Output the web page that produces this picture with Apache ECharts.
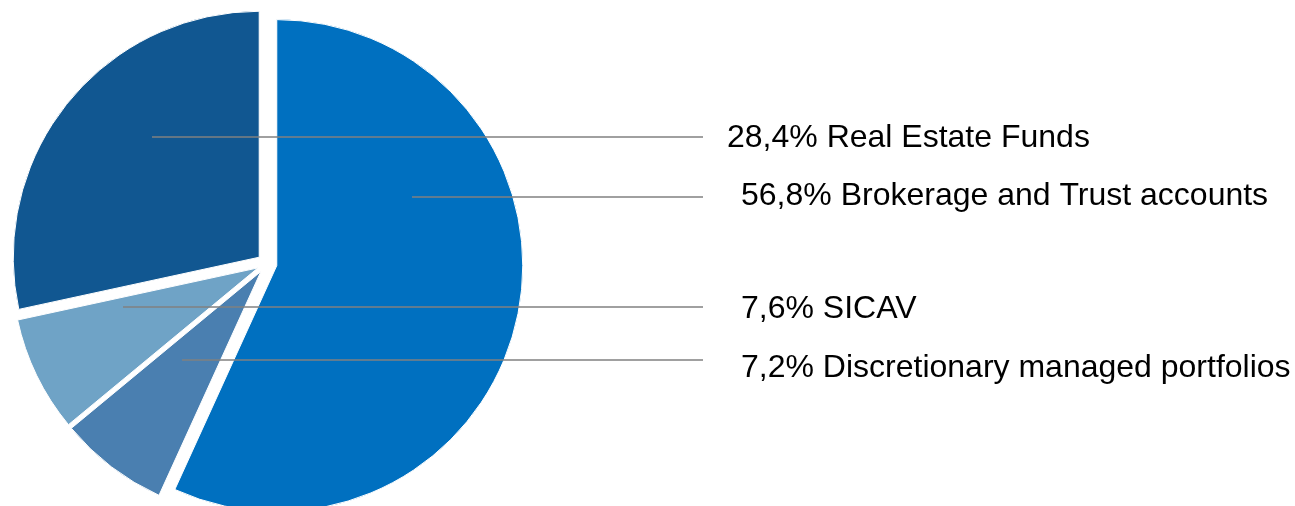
<!DOCTYPE html>
<html><head><meta charset="utf-8">
<script src="https://cdn.jsdelivr.net/npm/echarts@6/dist/echarts.min.js"></script>
<style>html,body{margin:0;padding:0;background:#fff}#c{width:1295px;height:506px}</style>
</head><body><div id="c"></div>
<script>
// Data
const categories = ['Brokerage and Trust accounts', 'Discretionary managed portfolios', 'SICAV', 'Real Estate Funds'];
const shares = [56.8, 7.2, 7.6, 28.4];

// Styling / annotation layout (kept apart from the data)
const sliceColors = ['#0070C0', '#4A7FB0', '#6FA3C6', '#115791'];
const leaderStartX = [412, 182, 123, 152];
const leaderY = [197, 360, 307, 137];
const textX = [741, 741, 741, 727];
const textY = [196, 368, 309, 138];
const leaderEndX = 703;

const pieCenter = [267, 263.5];
const pieRadius = 246;

const chart = echarts.init(document.getElementById('c'));
chart.setOption({
  animation: false,
  backgroundColor: '#ffffff',
  series: [{
    // exploded slices
    type: 'pie',
    z: 2,
    center: pieCenter,
    radius: pieRadius,
    startAngle: 90,
    clockwise: true,
    selectedMode: 'multiple',
    selectedOffset: 10,
    silent: true,
    itemStyle: { borderColor: '#ffffff', borderWidth: 1 },
    emphasis: { disabled: true },
    label: { show: false },
    labelLine: { show: false },
    data: categories.map((n, i) => ({
      name: n, value: shares[i], selected: true,
      itemStyle: { color: sliceColors[i] }
    }))
  }, {
    // same data, invisible sectors, carrying the labels and leader lines on top
    type: 'pie',
    z: 10,
    zlevel: 1,
    center: pieCenter,
    radius: pieRadius,
    startAngle: 90,
    clockwise: true,
    silent: true,
    avoidLabelOverlap: false,
    itemStyle: { color: 'rgba(0,0,0,0)', borderWidth: 0 },
    emphasis: { disabled: true },
    label: {
      show: true,
      position: 'outside',
      formatter: p => p.value.toFixed(1).replace('.', ',') + '% ' + p.name,
      fontFamily: '"Liberation Sans", Arial, sans-serif',
      fontSize: 32,
      color: '#000000'
    },
    labelLine: { show: true, lineStyle: { color: '#808080', width: 1.7 } },
    labelLayout: p => {
      const i = p.dataIndex;
      return {
        x: textX[i], y: textY[i], align: 'left', verticalAlign: 'middle',
        labelLinePoints: [[leaderStartX[i], leaderY[i]], [leaderEndX, leaderY[i]], [leaderEndX, leaderY[i]]]
      };
    },
    data: categories.map((n, i) => ({ name: n, value: shares[i] }))
  }]
});
</script>
</body></html>
